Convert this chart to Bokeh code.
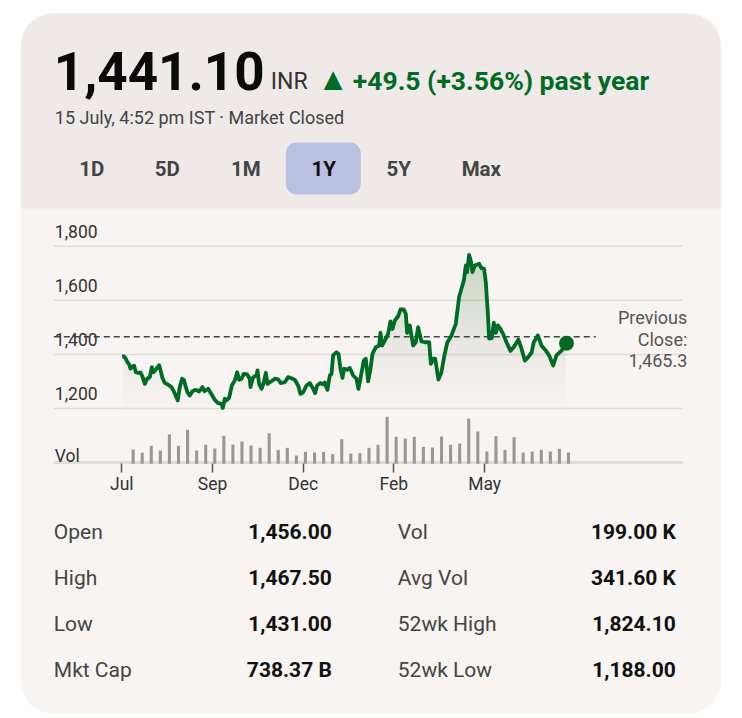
import numpy as np
from bokeh.core.properties import value
from bokeh.embed import file_html
from bokeh.models import FixedTicker, LinearAxis, Range1d
from bokeh.plotting import figure
from bokeh.resources import INLINE

# price line, x in weeks since the Jul tick
weeks = [0.04, 0.22, 0.44, 0.62, 0.81, 0.96, 1.18, 1.36, 1.54, 1.80, 2.06, 2.28, 2.54, 2.79, 3.09, 3.31, 3.49, 3.82,
         4.12, 4.26, 4.48, 4.74, 5.11, 5.48, 5.73, 6.17, 6.39, 6.65, 6.84, 7.06, 7.24, 7.50, 7.79, 8.16, 8.53, 8.89,
         9.11, 9.52, 9.81, 10.25, 10.62, 10.99, 11.13, 11.36, 11.54, 11.83, 12.13, 12.46, 12.72, 12.94, 13.19, 13.45,
         13.82, 14.11, 14.19, 14.48, 14.85, 14.96, 15.14, 15.40, 15.66, 15.88, 16.06, 16.50, 16.87, 17.24, 17.53,
         17.97, 18.34, 18.71, 19.07, 19.44, 19.70, 19.99, 20.36, 20.73, 21.10, 21.32, 21.54, 21.90, 22.20, 22.38,
         22.67, 22.93, 23.12, 23.30, 23.67, 23.89, 24.11, 24.33, 24.51, 24.84, 25.14, 25.51, 25.87, 26.09, 26.31,
         26.68, 26.90, 27.16, 27.42, 27.64, 28.01, 28.37, 28.52, 28.70, 29.00, 29.36, 29.62, 29.84, 30.10, 30.47,
         30.72, 31.09, 31.31, 31.46, 31.75, 32.12, 32.41, 32.67, 33.04, 33.41, 33.89, 34.07, 34.33, 34.55, 34.91,
         35.24, 35.50, 35.87, 36.35, 36.82, 37.19, 37.71, 37.93, 38.07, 38.29, 38.52, 38.66, 38.92, 39.40, 39.65,
         39.95, 40.13, 40.35, 40.50, 40.79, 41.01, 41.24, 41.46, 41.75, 42.04, 42.41, 42.85, 43.22, 43.73, 44.07,
         44.43, 44.80, 45.17, 45.42, 45.87, 46.27, 46.75, 47.12, 47.56, 47.92, 48.48, 49.03]
prices = [1392, 1393, 1384, 1371, 1363, 1347, 1355, 1358, 1334, 1332, 1333, 1318, 1291, 1310, 1316, 1353, 1334, 1347,
          1360, 1343, 1313, 1295, 1288, 1279, 1264, 1230, 1279, 1310, 1306, 1279, 1260, 1248, 1264, 1269, 1263, 1279,
          1264, 1273, 1257, 1232, 1220, 1217, 1202, 1236, 1230, 1239, 1285, 1304, 1334, 1306, 1310, 1328,
          1326, 1310, 1279, 1316, 1322, 1341, 1291, 1273, 1297, 1332, 1291, 1301, 1310, 1308, 1294,
          1297, 1316, 1312, 1306, 1285, 1254, 1260, 1285, 1294, 1273, 1257, 1285, 1294, 1289, 1296,
          1269, 1322, 1328, 1396, 1408, 1402, 1347, 1313, 1347, 1343, 1350, 1322, 1310, 1273, 1310,
          1377, 1384, 1300, 1347, 1402, 1427, 1433, 1480, 1433, 1451, 1476, 1522, 1494, 1525, 1541,
          1566, 1566, 1550, 1480, 1507, 1433, 1445, 1501, 1448, 1445, 1445, 1365, 1384, 1384, 1307,
          1334, 1384, 1443, 1470, 1513, 1612, 1673, 1729, 1704, 1768, 1741, 1704, 1729, 1735, 1719,
          1716, 1667, 1556, 1458, 1460, 1517, 1480, 1507, 1494, 1476, 1445, 1413, 1427, 1455, 1421,
          1377, 1390, 1406, 1445, 1470, 1433, 1414, 1396, 1359, 1396, 1414, 1441]

# weekly volume bars (thousands, estimated, the chart has no volume scale)
vol_weeks = [1.25 + i for i in range(49)]
volumes = [273, 207, 347, 253, 573, 347, 667, 253, 367, 293, 547, 373, 433, 353, 307, 600, 267, 307, 153, 227, 213,
           227, 180, 480, 193, 200, 307, 367, 927, 527, 493, 527, 327, 313, 533, 367, 393, 893, 633, 233, 540, 267,
           520, 213, 233, 267, 233, 287, 213]

price_ticks = [1200, 1400, 1600, 1800]
price_labels = ["1,200", "1,400", "1,600", "1,800"]
grid_levels = [1000, 1200, 1400, 1600, 1800]
month_ticks = [0, 10, 20, 30, 40]
month_labels = ["Jul", "Sep", "Dec", "Feb", "May"]
prev_close = 1465.3

ranges = ["1D", "5D", "1M", "1Y", "5Y", "Max"]
stat_names_left = ["Open", "High", "Low", "Mkt Cap"]
stat_values_left = ["1,456.00", "1,467.50", "1,431.00", "738.37 B"]
stat_names_right = ["Vol", "Avg Vol", "52wk High", "52wk Low"]
stat_values_right = ["199.00 K", "341.60 K", "1,824.10", "1,188.00"]

GREEN = "#006B24"
W, H = 726, 716
X0 = 0.7  # page x at the canvas' left edge

# page pixels -> data, so the whole card lives in one frame
px_per_week = 9.07
px_per_rupee = 54.1 / 200
week_at = lambda px: (px - 122) / px_per_week
price_at = lambda py: 1200 + (408 - py) / px_per_rupee
vol_at = lambda py: (462.7 - py) * 20

p = figure(width=W, height=H, output_backend="svg", toolbar_location=None, x_axis_type=None, y_axis_type=None,
           x_range=Range1d(week_at(X0), week_at(X0 + W)), y_range=Range1d(price_at(H), price_at(0)),
           min_border=0, outline_line_color=None, background_fill_color="white", border_fill_color="white")
p.grid.visible = False
p.extra_x_ranges["px"] = Range1d(X0, X0 + W)
p.extra_y_ranges["px"] = Range1d(H, 0)
p.extra_y_ranges["vol"] = Range1d(vol_at(H), vol_at(0))


def text(x, y, s, size, color="#333333", bold=False, align="left", y_range_name="px", y_offset=0):
    # bokeh sets svg text a bit low, pull it back up to the baseline
    p.text(x=x, y=y, text=s, text_font=value("Roboto"), text_font_size=f"{size}px", text_color=color,
           text_font_style="bold" if bold else "normal", text_align=align, text_baseline="alphabetic",
           x_range_name="px", y_range_name=y_range_name, y_offset=y_offset - 0.38 * size)


# card
p.quad(left=21, right=721, top=13, bottom=713, fill_color="#F7F4F1", line_color=None, border_radius=32,
       x_range_name="px", y_range_name="px")
p.quad(left=21, right=721, top=13, bottom=208, fill_color="#EFEAE8", line_color=None, border_radius=(32, 32, 0, 0),
       x_range_name="px", y_range_name="px")
p.quad(left=286, right=361, top=142, bottom=194, fill_color="#B9C0E0", line_color=None, border_radius=11,
       x_range_name="px", y_range_name="px")

# header
text([54], [91], ["1,441.10"], 53, "#0A0A0A", True)
text([271], [90], ["INR"], 23, "#333333")
text([317.5], [90.5], ["▲"], 32, GREEN)
text([353], [90.5], ["+49.5 (+3.56%) past year"], 26.5, GREEN, True)
text([55], [123.5], ["15 July, 4:52 pm IST · Market Closed"], 18, "#444444")
range_x = [92, 167.5, 246, 324, 399, 481.5]
text(range_x, [176] * 6, ranges, 20.5, ["#111111" if r == "1Y" else "#444444" for r in ranges], True, "center")

# grid
p.segment(x0=[54] * 5, x1=[683] * 5, y0=grid_levels, y1=grid_levels, line_color="#DFDDD7",
          line_width=[3 if g == 1000 else 1.5 for g in grid_levels], x_range_name="px")

# area fades out towards the bottom, stacked layers give the gradient
x = np.array(weeks)
y = np.array(prices, dtype=float)
for level in np.arange(1190, 1780, 20):
    p.varea(x=x, y1=y, y2=np.minimum(y, level), fill_color=GREEN, fill_alpha=0.0055 if level < 1400 else 0.0085)

p.vbar(x=vol_weeks, top=volumes, bottom=-10, width=0.34, fill_color="#999895", line_color=None, y_range_name="vol")
p.line(x=[54, 596], y=[prev_close, prev_close], line_color="#444444", line_width=1.5, line_dash="6 4",
       x_range_name="px")
p.line(x=weeks, y=prices, line_color=GREEN, line_width=3.8, line_join="round")
p.scatter(x=weeks[-1:], y=prices[-1:], size=15, fill_color=GREEN, line_color=None)

# price labels sit above their grid lines
text([55] * 4, price_ticks, price_labels, 17.5, y_range_name="default", y_offset=-8.4)
text([55], [462.5], ["Vol"], 17.5)

xaxis = LinearAxis(fixed_location=price_at(462.5), ticker=FixedTicker(ticks=month_ticks),
                   major_label_overrides=dict(zip(month_ticks, month_labels)), axis_line_color=None,
                   major_tick_in=0, major_tick_out=9, major_tick_line_color="#555555", major_tick_line_width=1.5,
                   minor_tick_line_color=None, major_label_standoff=2, major_label_text_font="Roboto",
                   major_label_text_font_size="17.5px", major_label_text_color="#333333")
p.add_layout(xaxis, "below")

text([687.5] * 3, [324, 345.5, 367], ["Previous", "Close:", "1,465.3"], 18, "#555555", False, "right")

# stats table
rows = [539, 585, 631, 677]
text([54] * 4, rows, stat_names_left, 21, "#444444")
text([332] * 4, rows, stat_values_left, 21, "#111111", True, "right")
text([398] * 4, rows, stat_names_right, 21, "#444444")
text([676] * 4, rows, stat_values_right, 21, "#111111", True, "right")

open("out.html", "w").write(file_html(p, INLINE))
